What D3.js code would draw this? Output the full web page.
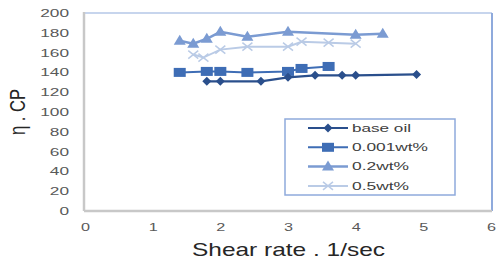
<!DOCTYPE html>
<html>
<head>
<meta charset="utf-8">
<script src="https://cdn.jsdelivr.net/npm/d3@7"></script>
<style>
  body { margin: 0; background: #fff; }
  svg { display: block; font-family: "Liberation Sans", Arial, sans-serif; }
</style>
</head>
<body>
<svg id="chart" width="496" height="264"></svg>
<script>
// data
const seriesNames = ["base oil", "0.001wt%", "0.2wt%", "0.5wt%"];
const baseX = [1.8, 2.0, 2.6, 3.0, 3.4, 3.8, 4.0, 4.9];
const baseY = [131, 131, 131, 135, 137, 137, 137, 138];
const lowX = [1.4, 1.8, 2.0, 2.4, 3.0, 3.2, 3.6];
const lowY = [140, 141, 141, 140, 141, 144, 146];
const midX = [1.4, 1.6, 1.8, 2.0, 2.4, 3.0, 4.0, 4.4];
const midY = [172, 169, 174, 181, 176, 181, 178, 179];
const highX = [1.6, 1.75, 2.0, 2.4, 3.0, 3.2, 3.6, 4.0];
const highY = [158, 155, 163, 166, 166, 171, 170, 169];
const xTicks = [0, 1, 2, 3, 4, 5, 6];
const yTicks = [0, 20, 40, 60, 80, 100, 120, 140, 160, 180, 200];

const config = {
    width: 496, height: 264,
    plot: {left: 84, right: 492, top: 13, bottom: 211}
};

const svg = d3.select("#chart");
const x = d3.scaleLinear().domain([0, 6]).range([85, 491]);
const y = d3.scaleLinear().domain([0, 200]).range([config.plot.bottom, config.plot.top]);

const series = [
    {name: seriesNames[0], xs: baseX, ys: baseY, color: "#2A4F8C", width: 2.2, marker: "diamond"},
    {name: seriesNames[1], xs: lowX, ys: lowY, color: "#3E6DB5", width: 2, marker: "square"},
    {name: seriesNames[2], xs: midX, ys: midY, color: "#7B9BD2", width: 2.5, marker: "triangle"},
    {name: seriesNames[3], xs: highX, ys: highY, color: "#BACBE6", width: 2, marker: "cross"}
];

// plot frame
const p = config.plot;
svg.append("line").attr("x1", p.left).attr("x2", p.right).attr("y1", p.top).attr("y2", p.top)
    .attr("stroke", "#B4C7E7").attr("stroke-width", 1.5);
svg.append("line").attr("x1", p.right).attr("x2", p.right).attr("y1", p.top).attr("y2", p.bottom)
    .attr("stroke", "#8FAADC").attr("stroke-width", 2);
svg.append("line").attr("x1", p.left).attr("x2", p.left).attr("y1", p.top - 1).attr("y2", p.bottom)
    .attr("stroke", "#C8C8C8").attr("stroke-width", 2.5);
svg.append("line").attr("x1", p.left).attr("x2", p.right).attr("y1", p.bottom).attr("y2", p.bottom)
    .attr("stroke", "#C8C8C8").attr("stroke-width", 2.5);

// axes
const yAxis = svg.append("g").attr("transform", `translate(${p.left},0)`)
    .call(d3.axisLeft(y).tickValues(yTicks).tickFormat(d3.format("d")).tickSize(0).tickPadding(15));
yAxis.select(".domain").remove();
yAxis.selectAll("text")
    .attr("font-size", 10).attr("fill", "#595959").attr("dy", "0.35em")
    .attr("font-family", "Liberation Sans, Arial, sans-serif")
    .attr("textLength", d => String(d).length * 9.6).attr("lengthAdjust", "spacingAndGlyphs");

const xAxis = svg.append("g").attr("transform", `translate(0,${p.bottom})`)
    .call(d3.axisBottom(x).tickValues(xTicks).tickFormat(d3.format("d")).tickSize(0).tickPadding(13));
xAxis.select(".domain").remove();
xAxis.selectAll("text")
    .attr("font-size", 10).attr("fill", "#595959")
    .attr("font-family", "Liberation Sans, Arial, sans-serif")
    .attr("textLength", 9).attr("lengthAdjust", "spacingAndGlyphs");

// series lines and markers
const line = d3.line().x(d => x(d[0])).y(d => y(d[1]));

function drawMarker(g, type, color) {
    if (type === "diamond") {
        g.append("path").attr("d", "M0,-4.5L4.5,0L0,4.5L-4.5,0Z").attr("fill", color);
    } else if (type === "square") {
        g.append("rect").attr("x", -6).attr("y", -4.5).attr("width", 12).attr("height", 9).attr("fill", color);
    } else if (type === "triangle") {
        g.append("path").attr("d", "M0,-6L6,4L-6,4Z").attr("fill", color);
    } else {
        g.append("path").attr("d", "M-5,-4L5,4M-5,4L5,-4").attr("stroke", color).attr("stroke-width", 1.5);
    }
}

series.slice().reverse().forEach(s => {
    const pts = s.xs.map((v, i) => [v, s.ys[i]]);
    svg.append("path").datum(pts).attr("d", line)
        .attr("fill", "none").attr("stroke", s.color).attr("stroke-width", s.width);
    pts.forEach(pt => {
        const g = svg.append("g").attr("transform", `translate(${x(pt[0])},${y(pt[1])})`);
        drawMarker(g, s.marker, s.color);
    });
});

// legend
const legend = svg.append("g");
legend.append("rect").attr("x", 285).attr("y", 119).attr("width", 170).attr("height", 76)
    .attr("fill", "#fff").attr("stroke", "#8FAADC").attr("stroke-width", 1.5);
const legendLen = [59, 76, 57, 57];
series.forEach((s, i) => {
    const ly = 128 + i * 19.3;
    legend.append("line").attr("x1", 308).attr("x2", 348).attr("y1", ly).attr("y2", ly)
        .attr("stroke", s.color).attr("stroke-width", s.width);
    const g = legend.append("g").attr("transform", `translate(328,${ly})`);
    drawMarker(g, s.marker, s.color);
    legend.append("text").attr("x", 352).attr("y", ly).attr("dy", "0.35em")
        .attr("font-size", 11).attr("fill", "#404040")
        .attr("textLength", legendLen[i]).attr("lengthAdjust", "spacingAndGlyphs")
        .text(s.name);
});

// axis titles
svg.append("text").attr("x", 192).attr("y", 256)
    .attr("font-size", 19).attr("fill", "#262626")
    .attr("textLength", 193).attr("lengthAdjust", "spacingAndGlyphs")
    .text("Shear rate . 1/sec");

svg.append("text").attr("transform", "translate(25,112) scale(1.3,1) rotate(-90)")
    .attr("text-anchor", "middle")
    .attr("font-size", 17).attr("fill", "#262626")
    .attr("textLength", 46).attr("lengthAdjust", "spacingAndGlyphs")
    .text("η . CP");
</script>
</body>
</html>
